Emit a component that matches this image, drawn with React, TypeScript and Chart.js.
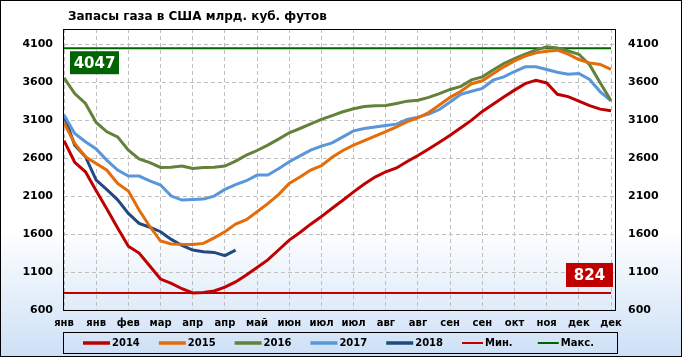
import React, { useEffect, useRef } from 'react';
import { Chart, registerables } from 'chart.js';

Chart.register(...registerables);

const FONT = "'DejaVu Sans', sans-serif";

const title = 'Запасы газа в США млрд. куб. футов';
const tickLabels = ['янв', 'янв', 'фев', 'мар', 'апр', 'апр', 'май', 'июн', 'июл', 'июл', 'авг', 'авг', 'сен', 'сен', 'окт', 'ноя', 'дек', 'дек'];
const yTicks = [600, 1100, 1600, 2100, 2600, 3100, 3600, 4100];

const s2014 = [2830, 2545, 2420, 2170, 1930, 1680, 1440, 1350, 1180, 1008, 950, 880, 824, 830, 850, 900, 970, 1060, 1160, 1260, 1390, 1520, 1620, 1730, 1830, 1940, 2045, 2155, 2260, 2350, 2420, 2470, 2555, 2635, 2720, 2810, 2900, 3000, 3100, 3215, 3310, 3405, 3495, 3580, 3626, 3590, 3440, 3410, 3350, 3290, 3245, 3223];
const s2015 = [3065, 2793, 2618, 2530, 2440, 2267, 2166, 1916, 1700, 1508, 1470, 1465, 1464, 1477, 1550, 1631, 1732, 1790, 1894, 2000, 2120, 2267, 2350, 2442, 2500, 2610, 2700, 2771, 2830, 2890, 2950, 3010, 3080, 3130, 3200, 3300, 3400, 3480, 3580, 3618, 3710, 3802, 3880, 3942, 3986, 4008, 4021, 3968, 3898, 3854, 3833, 3767];
const s2016 = [3657, 3451, 3319, 3069, 2946, 2880, 2705, 2590, 2540, 2477, 2480, 2495, 2464, 2477, 2480, 2495, 2560, 2639, 2700, 2771, 2850, 2933, 2990, 3050, 3110, 3160, 3210, 3250, 3280, 3290, 3293, 3320, 3350, 3363, 3400, 3450, 3504, 3545, 3630, 3670, 3760, 3846, 3911, 3970, 4021, 4065, 4051, 4010, 3968, 3830, 3590, 3354];
const s2017 = [3166, 2925, 2815, 2720, 2570, 2442, 2363, 2363, 2300, 2245, 2100, 2047, 2055, 2060, 2100, 2188, 2250, 2302, 2376, 2376, 2460, 2552, 2630, 2705, 2758, 2800, 2880, 2959, 2990, 3010, 3030, 3047, 3110, 3140, 3179, 3240, 3340, 3440, 3480, 3517, 3626, 3670, 3740, 3802, 3802, 3767, 3730, 3705, 3714, 3635, 3473, 3354];
const s2018 = [3160, 2771, 2618, 2311, 2185, 2050, 1872, 1740, 1690, 1631, 1530, 1450, 1389, 1367, 1358, 1315, 1389];
const minValue = 824;
const maxValue = 4047;

const seriesNames = ['2014', '2015', '2016', '2017', '2018', 'Мин.', 'Макс.'];
const seriesColors = ['#C00000', '#E46C0A', '#63813A', '#5A96DA', '#224A7E', '#C00000', '#006400'];
const seriesWidths = [3, 3, 3, 3, 3, 2, 2];
const weekCount = s2014.length;

const toPoints = (arr: number[]) => arr.map((y, i) => ({ x: i, y }));

const decorPlugin = {
  id: 'decor',
  beforeDraw(chart: any) {
    const { ctx, width, height } = chart;
    ctx.save();
    const g = ctx.createLinearGradient(0, 0, 0, height);
    g.addColorStop(0, '#FFFFFF');
    g.addColorStop(0.64, '#FFFFFF');
    g.addColorStop(1, '#CDE0F6');
    ctx.fillStyle = g;
    ctx.fillRect(0, 0, width, height);
    ctx.restore();
  },
  beforeDatasetsDraw(chart: any) {
    const { ctx, chartArea } = chart;
    ctx.save();
    ctx.strokeStyle = '#000';
    ctx.lineWidth = 1;
    ctx.strokeRect(Math.round(chartArea.left) - 0.5, Math.round(chartArea.top) + 0.5,
      Math.round(chartArea.right - chartArea.left) + 1, Math.round(chartArea.bottom - chartArea.top));
    ctx.restore();
  },
  afterDatasetsDraw(chart: any) {
    const { ctx, chartArea, scales } = chart;
    const y = scales.y;
    ctx.save();
    ctx.font = `bold 15px ${FONT}`;
    ctx.textAlign = 'center';
    ctx.textBaseline = 'middle';
    const yMax = y.getPixelForValue(maxValue);
    const bx = chartArea.left + 6, by = yMax + 3, bw = 49, bh = 23;
    ctx.fillStyle = '#006400';
    ctx.fillRect(bx, by, bw, bh);
    ctx.fillStyle = '#FFFFFF';
    ctx.fillText(String(maxValue), bx + bw / 2, by + bh / 2 + 1);
    const yMin = y.getPixelForValue(minValue);
    const mw = 47, mh = 24;
    const mx = chartArea.right - mw - 2, my = yMin - mh - 6;
    ctx.fillStyle = '#C00000';
    ctx.fillRect(mx, my, mw, mh);
    ctx.fillStyle = '#FFFFFF';
    ctx.fillText(String(minValue), mx + mw / 2, my + mh / 2 + 1);
    ctx.restore();
  },
  afterDraw(chart: any) {
    const { ctx, chartArea, width, height } = chart;
    ctx.save();
    ctx.strokeStyle = '#000';
    ctx.lineWidth = 1;
    ctx.strokeRect(0.5, 0.5, width - 1, height - 1);
    ctx.fillStyle = '#000';
    ctx.font = `bold 12px ${FONT}`;
    ctx.textAlign = 'left';
    ctx.textBaseline = 'alphabetic';
    ctx.fillText(title, chartArea.left + 4, 20);
    const lx = chartArea.left - 0.5, ly = 332.5, lw = chartArea.right - chartArea.left + 3, lh = 21;
    ctx.strokeRect(lx, ly, lw, lh);
    const cy = 343;
    ctx.font = `bold 10px ${FONT}`;
    ctx.textBaseline = 'middle';
    seriesNames.forEach((name, i) => {
      const x0 = chartArea.left + 19 + i * 75.8;
      const len = i < 5 ? 27 : 21;
      ctx.strokeStyle = seriesColors[i];
      ctx.lineWidth = seriesWidths[i] + (i < 5 ? 0.5 : 0);
      ctx.beginPath();
      ctx.moveTo(x0, cy);
      ctx.lineTo(x0 + len, cy);
      ctx.stroke();
      ctx.fillStyle = '#000';
      ctx.fillText(name, x0 + len + 2, cy + 0.5);
    });
    ctx.restore();
  },
};

export default function App() {
  const ref = useRef<HTMLCanvasElement | null>(null);
  useEffect(() => {
    const canvas = ref.current;
    if (!canvas) return;
    const yScaleCommon = (pos: 'left' | 'right', pad: number, w: number, showGrid: boolean) => ({
      type: 'linear' as const,
      position: pos,
      min: 600,
      max: 4300,
      afterBuildTicks: (s: any) => { s.ticks = yTicks.map((v) => ({ value: v })); },
      afterFit: (s: any) => { s.width = w; },
      ticks: {
        callback: (v: any) => String(v),
        padding: pad,
        color: '#000',
        font: { family: FONT, size: 11, weight: 'bold' as const },
      },
      grid: { display: showGrid, color: '#BFBFBF', lineWidth: 1, drawTicks: false },
      border: { display: false, dash: [4, 3] },
    });
    const chart = new Chart(canvas, {
      type: 'line',
      data: {
        datasets: [
          ...[s2014, s2015, s2016, s2017, s2018].map((arr, i) => ({
            label: seriesNames[i],
            data: toPoints(arr),
            borderColor: seriesColors[i],
            backgroundColor: seriesColors[i],
            borderWidth: seriesWidths[i],
            pointRadius: 0,
            tension: 0,
            yAxisID: 'y',
          })),
          {
            label: seriesNames[5],
            data: [{ x: 0, y: minValue }, { x: weekCount - 1, y: minValue }],
            borderColor: seriesColors[5],
            backgroundColor: seriesColors[5],
            borderWidth: seriesWidths[5],
            pointRadius: 0,
            yAxisID: 'y',
          },
          {
            label: seriesNames[6],
            data: [{ x: 0, y: maxValue }, { x: weekCount - 1, y: maxValue }],
            borderColor: seriesColors[6],
            backgroundColor: seriesColors[6],
            borderWidth: seriesWidths[6],
            pointRadius: 0,
            yAxisID: 'y',
          },
        ],
      },
      options: {
        responsive: false,
        animation: false,
        devicePixelRatio: 1,
        layout: { padding: { top: 29, left: 0, right: 0, bottom: 0 } },
        plugins: { legend: { display: false }, tooltip: { enabled: false }, title: { display: false } },
        scales: {
          x: {
            type: 'linear',
            min: 0,
            max: weekCount - 1 + 0.37,
            afterBuildTicks: (s: any) => { s.ticks = tickLabels.map((_, k) => ({ value: k * 3 })); },
            afterFit: (s: any) => { s.height = 47; },
            ticks: {
              autoSkip: false,
              maxRotation: 0,
              padding: 7,
              color: '#000',
              font: { family: FONT, size: 10, weight: 'bold' },
              callback: (_v: any, i: number) => tickLabels[i],
            },
            grid: { color: '#BFBFBF', lineWidth: 1, drawTicks: false },
            border: { display: false, dash: [4, 3] },
          },
          y: yScaleCommon('left', 11, 64, true),
          y2: yScaleCommon('right', 13, 67, false),
        },
      },
      plugins: [decorPlugin],
    } as any);
    return () => chart.destroy();
  }, []);
  return (
    <div style={{ position: 'fixed', left: 0, top: 0, width: 682, height: 357 }}>
      <canvas ref={ref} width={682} height={357} style={{ display: 'block' }} />
    </div>
  );
}
